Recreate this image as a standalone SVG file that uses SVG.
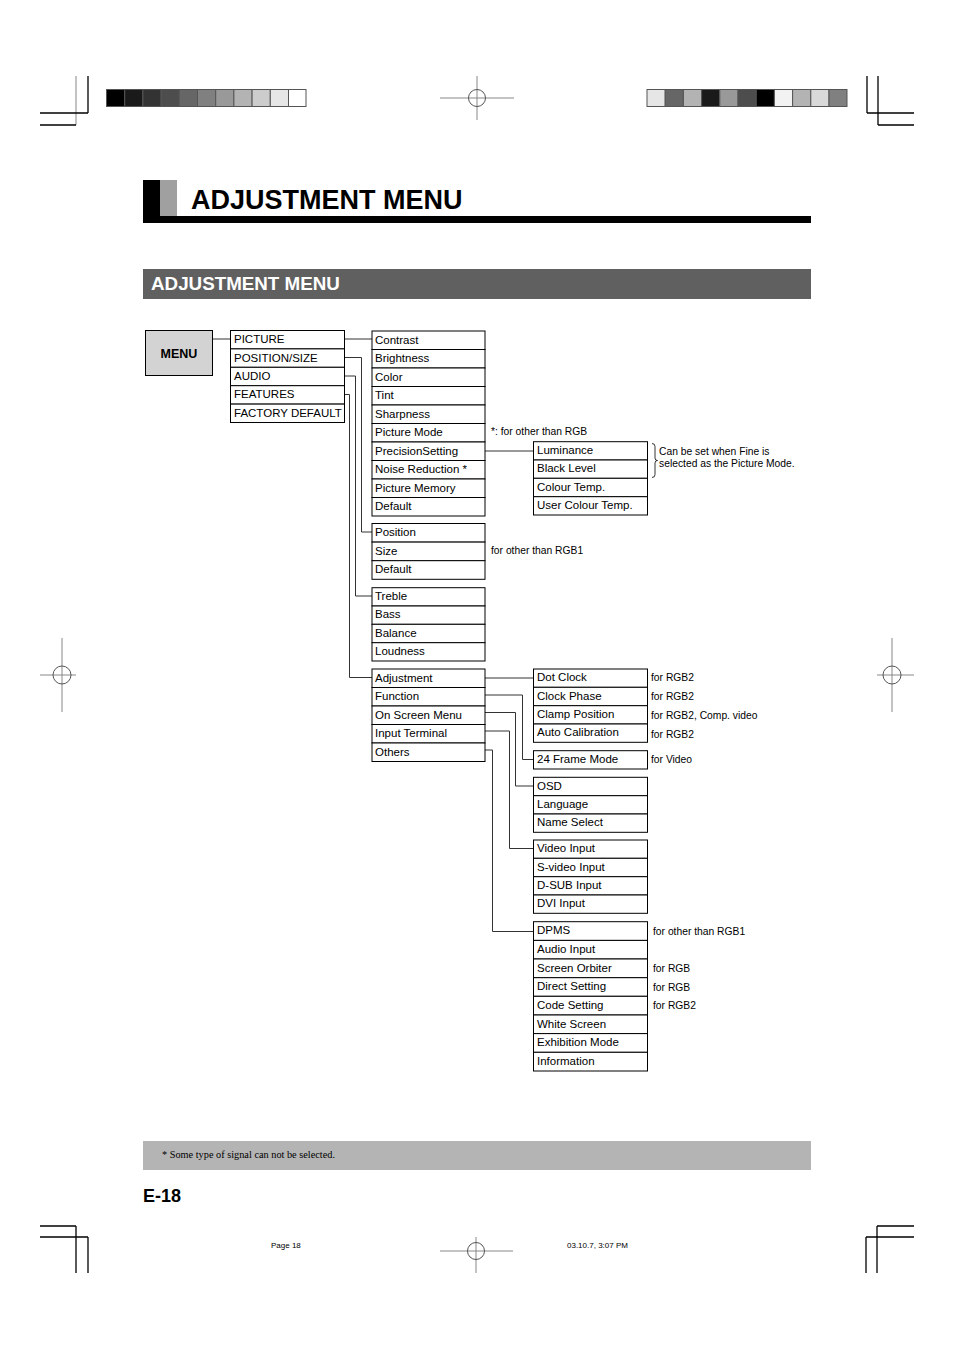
<svg xmlns="http://www.w3.org/2000/svg" width="954" height="1351" viewBox="0 0 954 1351">
<style>
.b{fill:#fff;stroke:#000;stroke-width:1}
.t{font-family:"Liberation Sans",Arial,sans-serif;font-size:11.5px;fill:#000}
.n{font-family:"Liberation Sans",Arial,sans-serif;font-size:10.3px;fill:#000}
.c{fill:none;stroke:#333;stroke-width:1}
.k{fill:none;stroke:#000;stroke-width:1.3}
.g{fill:none;stroke:#888;stroke-width:1}
.sq{stroke:#555;stroke-width:1}
</style>
<rect width="954" height="1351" fill="#fff"/>
<g id="printmarks">
<line class="g" x1="76" y1="76" x2="76" y2="125"/>
<line class="k" x1="88" y1="76" x2="88" y2="113"/>
<line class="k" x1="40" y1="113" x2="88" y2="113"/>
<line class="k" x1="40" y1="125" x2="76" y2="125"/>
<line class="k" x1="867" y1="76" x2="867" y2="113"/>
<line class="k" x1="878" y1="76" x2="878" y2="125"/>
<line class="k" x1="867" y1="113" x2="914" y2="113"/>
<line class="k" x1="878" y1="125" x2="914" y2="125"/>
<line class="k" x1="40" y1="1226" x2="76" y2="1226"/>
<line class="k" x1="76" y1="1226" x2="76" y2="1273"/>
<line class="k" x1="40" y1="1237" x2="88" y2="1237"/>
<line class="k" x1="88" y1="1237" x2="88" y2="1273"/>
<line class="k" x1="877" y1="1226" x2="914" y2="1226"/>
<line class="k" x1="877" y1="1226" x2="877" y2="1273"/>
<line class="k" x1="866" y1="1237" x2="914" y2="1237"/>
<line class="k" x1="866" y1="1237" x2="866" y2="1273"/>
<g>
<line class="g" x1="440" y1="98" x2="514" y2="98"/><line class="g" x1="477" y1="76" x2="477" y2="120"/><circle cx="477" cy="98" r="8.5" fill="none" stroke="#555"/>
<line class="g" x1="40" y1="675" x2="76" y2="675"/><line class="g" x1="62" y1="638" x2="62" y2="712"/><circle cx="62" cy="675" r="9" fill="none" stroke="#555"/>
<line class="g" x1="877" y1="675" x2="914" y2="675"/><line class="g" x1="892" y1="638" x2="892" y2="712"/><circle cx="892" cy="675" r="9" fill="none" stroke="#555"/>
<line class="g" x1="440" y1="1251" x2="513" y2="1251"/><line class="g" x1="476" y1="1237" x2="476" y2="1273"/><circle cx="476" cy="1251" r="8.5" fill="none" stroke="#555"/>
</g>
<g>
<rect class="sq" x="106.5" y="89.5" width="18.2" height="17" fill="#000"/>
<rect class="sq" x="124.7" y="89.5" width="18.2" height="17" fill="#1a1a1a"/>
<rect class="sq" x="142.9" y="89.5" width="18.2" height="17" fill="#333"/>
<rect class="sq" x="161.1" y="89.5" width="18.2" height="17" fill="#4d4d4d"/>
<rect class="sq" x="179.3" y="89.5" width="18.2" height="17" fill="#666"/>
<rect class="sq" x="197.5" y="89.5" width="18.2" height="17" fill="#808080"/>
<rect class="sq" x="215.7" y="89.5" width="18.2" height="17" fill="#999"/>
<rect class="sq" x="233.9" y="89.5" width="18.2" height="17" fill="#b3b3b3"/>
<rect class="sq" x="252.1" y="89.5" width="18.2" height="17" fill="#ccc"/>
<rect class="sq" x="270.3" y="89.5" width="18.2" height="17" fill="#e6e6e6"/>
<rect class="sq" x="288.5" y="89.5" width="17.5" height="17" fill="#fff"/>
<rect class="sq" x="647" y="89.5" width="18.2" height="17" fill="#e6e6e6"/>
<rect class="sq" x="665.2" y="89.5" width="18.2" height="17" fill="#666"/>
<rect class="sq" x="683.4" y="89.5" width="18.2" height="17" fill="#b3b3b3"/>
<rect class="sq" x="701.6" y="89.5" width="18.2" height="17" fill="#1a1a1a"/>
<rect class="sq" x="719.8" y="89.5" width="18.2" height="17" fill="#999"/>
<rect class="sq" x="738" y="89.5" width="18.2" height="17" fill="#4d4d4d"/>
<rect class="sq" x="756.2" y="89.5" width="18.2" height="17" fill="#000"/>
<rect class="sq" x="774.4" y="89.5" width="18.2" height="17" fill="#f2f2f2"/>
<rect class="sq" x="792.6" y="89.5" width="18.2" height="17" fill="#b3b3b3"/>
<rect class="sq" x="810.8" y="89.5" width="18.2" height="17" fill="#d9d9d9"/>
<rect class="sq" x="829" y="89.5" width="18" height="17" fill="#808080"/>
</g>
<text x="271" y="1248" font-family="Liberation Sans,Arial,sans-serif" font-size="8" fill="#000">Page 18</text>
<text x="567" y="1248" font-family="Liberation Sans,Arial,sans-serif" font-size="8" fill="#000">03.10.7, 3:07 PM</text>
</g>
<g id="title">
<rect x="143" y="180" width="17" height="37" fill="#000"/>
<rect x="160" y="180" width="17" height="37" fill="#a0a0a0"/>
<rect x="143" y="216" width="668" height="7" fill="#000"/>
<text x="191" y="209" font-family="Liberation Sans,Arial,sans-serif" font-size="27" font-weight="bold" fill="#000">ADJUSTMENT MENU</text>
</g>
<g id="section">
<rect x="143" y="269" width="668" height="30" fill="#606060"/>
<text x="151" y="290" font-family="Liberation Sans,Arial,sans-serif" font-size="18.8" font-weight="bold" fill="#fff">ADJUSTMENT MENU</text>
</g>
<g id="connectors">
<path class="c" d="M212,339H231"/>
<path class="c" d="M344,339H372"/>
<path class="c" d="M344,357.5H361.5V532H372"/>
<path class="c" d="M344,376H355.5V596H372"/>
<path class="c" d="M344,394.5H349.5V677.5H372"/>
<path class="c" d="M485,451H533"/>
<path class="c" d="M485,678H533"/>
<path class="c" d="M485,695H522.5V759.5H533"/>
<path class="c" d="M485,712.5H515.5V786H533"/>
<path class="c" d="M485,731H509.5V848.5H533"/>
<path class="c" d="M485,750H492.5V931.5H533"/>
</g>
<g id="menu">
<rect x="145.5" y="330.5" width="67" height="45" fill="#d3d3d3" stroke="#000"/>
<text x="179" y="358" text-anchor="middle" font-family="Liberation Sans,Arial,sans-serif" font-size="12.5" font-weight="bold">MENU</text>
</g>
<g id="col1">
<g id="n-picture"><rect class="b" x="230.5" y="330.5" width="114" height="18.4"/><text class="t" x="234" y="343">PICTURE</text></g>
<g id="n-position-size"><rect class="b" x="230.5" y="348.9" width="114" height="18.4"/><text class="t" x="234" y="361.5">POSITION/SIZE</text></g>
<g id="n-audio"><rect class="b" x="230.5" y="367.3" width="114" height="18.4"/><text class="t" x="234" y="379.8">AUDIO</text></g>
<g id="n-features"><rect class="b" x="230.5" y="385.7" width="114" height="18.4"/><text class="t" x="234" y="398.2">FEATURES</text></g>
<g id="n-factory"><rect class="b" x="230.5" y="404.1" width="114" height="18.4"/><text class="t" x="234" y="416.6">FACTORY DEFAULT</text></g>
</g>
<g id="picture-items">
<g id="n-contrast"><rect class="b" x="372" y="331" width="113" height="18.5"/><text class="t" x="375" y="343.5">Contrast</text></g>
<g id="n-brightness"><rect class="b" x="372" y="349.5" width="113" height="18.5"/><text class="t" x="375" y="362">Brightness</text></g>
<g id="n-color"><rect class="b" x="372" y="368" width="113" height="18.5"/><text class="t" x="375" y="380.5">Color</text></g>
<g id="n-tint"><rect class="b" x="372" y="386.5" width="113" height="18.5"/><text class="t" x="375" y="399">Tint</text></g>
<g id="n-sharpness"><rect class="b" x="372" y="405" width="113" height="18.5"/><text class="t" x="375" y="417.5">Sharpness</text></g>
<g id="n-picture-mode"><rect class="b" x="372" y="423.5" width="113" height="18.5"/><text class="t" x="375" y="436">Picture Mode</text></g>
<g id="n-precision"><rect class="b" x="372" y="442" width="113" height="18.5"/><text class="t" x="375" y="454.5">PrecisionSetting</text></g>
<g id="n-noise"><rect class="b" x="372" y="460.5" width="113" height="18.5"/><text class="t" x="375" y="473">Noise Reduction *</text></g>
<g id="n-picture-memory"><rect class="b" x="372" y="479" width="113" height="18.5"/><text class="t" x="375" y="491.5">Picture Memory</text></g>
<g id="n-picture-default"><rect class="b" x="372" y="497.5" width="113" height="18.5"/><text class="t" x="375" y="510">Default</text></g>
</g>
<g id="position-items">
<g id="n-position"><rect class="b" x="372" y="523.5" width="113" height="18.6"/><text class="t" x="375" y="536">Position</text></g>
<g id="n-size"><rect class="b" x="372" y="542.1" width="113" height="18.6"/><text class="t" x="375" y="554.6">Size</text></g>
<g id="n-position-default"><rect class="b" x="372" y="560.7" width="113" height="18.6"/><text class="t" x="375" y="573.2">Default</text></g>
</g>
<g id="audio-items">
<g id="n-treble"><rect class="b" x="372" y="587.7" width="113" height="18.3"/><text class="t" x="375" y="600">Treble</text></g>
<g id="n-bass"><rect class="b" x="372" y="606" width="113" height="18.3"/><text class="t" x="375" y="618.3">Bass</text></g>
<g id="n-balance"><rect class="b" x="372" y="624.3" width="113" height="18.4"/><text class="t" x="375" y="636.6">Balance</text></g>
<g id="n-loudness"><rect class="b" x="372" y="642.7" width="113" height="18.3"/><text class="t" x="375" y="655">Loudness</text></g>
</g>
<g id="features-items">
<g id="n-adjustment"><rect class="b" x="372" y="669" width="113" height="18.5"/><text class="t" x="375" y="681.5">Adjustment</text></g>
<g id="n-function"><rect class="b" x="372" y="687.5" width="113" height="18.5"/><text class="t" x="375" y="700">Function</text></g>
<g id="n-osm"><rect class="b" x="372" y="706" width="113" height="18.5"/><text class="t" x="375" y="718.5">On Screen Menu</text></g>
<g id="n-input-terminal"><rect class="b" x="372" y="724.5" width="113" height="18.5"/><text class="t" x="375" y="737">Input Terminal</text></g>
<g id="n-others"><rect class="b" x="372" y="743" width="113" height="18.5"/><text class="t" x="375" y="755.5">Others</text></g>
</g>
<g id="precision-items">
<g id="n-luminance"><rect class="b" x="533.5" y="441.7" width="114" height="18.3"/><text class="t" x="537" y="454">Luminance</text></g>
<g id="n-black-level"><rect class="b" x="533.5" y="460" width="114" height="18.3"/><text class="t" x="537" y="472.3">Black Level</text></g>
<g id="n-colour-temp"><rect class="b" x="533.5" y="478.3" width="114" height="18.4"/><text class="t" x="537" y="490.6">Colour Temp.</text></g>
<g id="n-user-colour"><rect class="b" x="533.5" y="496.7" width="114" height="18.3"/><text class="t" x="537" y="509">User Colour Temp.</text></g>
</g>
<g id="adjustment-items">
<g id="n-dot-clock"><rect class="b" x="533.5" y="669" width="114" height="18.3"/><text class="t" x="537" y="681.3">Dot Clock</text></g>
<g id="n-clock-phase"><rect class="b" x="533.5" y="687.3" width="114" height="18.4"/><text class="t" x="537" y="699.6">Clock Phase</text></g>
<g id="n-clamp"><rect class="b" x="533.5" y="705.7" width="114" height="18.3"/><text class="t" x="537" y="718">Clamp Position</text></g>
<g id="n-auto-cal"><rect class="b" x="533.5" y="724" width="114" height="18.3"/><text class="t" x="537" y="736.3">Auto Calibration</text></g>
</g>
<g id="function-items">
<g id="n-24frame"><rect class="b" x="533.5" y="750.7" width="114" height="18.3"/><text class="t" x="537" y="763">24 Frame Mode</text></g>
</g>
<g id="osm-items">
<g id="n-osd"><rect class="b" x="533.5" y="777.3" width="114" height="18.4"/><text class="t" x="537" y="789.6">OSD</text></g>
<g id="n-language"><rect class="b" x="533.5" y="795.7" width="114" height="18.3"/><text class="t" x="537" y="808">Language</text></g>
<g id="n-name-select"><rect class="b" x="533.5" y="814" width="114" height="18.3"/><text class="t" x="537" y="826.3">Name Select</text></g>
</g>
<g id="input-items">
<g id="n-video"><rect class="b" x="533.5" y="840" width="114" height="18.3"/><text class="t" x="537" y="852.3">Video Input</text></g>
<g id="n-svideo"><rect class="b" x="533.5" y="858.3" width="114" height="18.4"/><text class="t" x="537" y="870.6">S-video Input</text></g>
<g id="n-dsub"><rect class="b" x="533.5" y="876.7" width="114" height="18.3"/><text class="t" x="537" y="889">D-SUB Input</text></g>
<g id="n-dvi"><rect class="b" x="533.5" y="895" width="114" height="18.3"/><text class="t" x="537" y="907.3">DVI Input</text></g>
</g>
<g id="others-items">
<g id="n-dpms"><rect class="b" x="533.5" y="921.7" width="114" height="18.7"/><text class="t" x="537" y="934.2">DPMS</text></g>
<g id="n-audio-input"><rect class="b" x="533.5" y="940.4" width="114" height="18.6"/><text class="t" x="537" y="952.9">Audio Input</text></g>
<g id="n-orbiter"><rect class="b" x="533.5" y="959" width="114" height="18.7"/><text class="t" x="537" y="971.5">Screen Orbiter</text></g>
<g id="n-direct"><rect class="b" x="533.5" y="977.7" width="114" height="18.6"/><text class="t" x="537" y="990.2">Direct Setting</text></g>
<g id="n-code"><rect class="b" x="533.5" y="996.3" width="114" height="18.7"/><text class="t" x="537" y="1008.8">Code Setting</text></g>
<g id="n-white"><rect class="b" x="533.5" y="1015" width="114" height="18.6"/><text class="t" x="537" y="1027.5">White Screen</text></g>
<g id="n-exhibition"><rect class="b" x="533.5" y="1033.6" width="114" height="18.7"/><text class="t" x="537" y="1046.1">Exhibition Mode</text></g>
<g id="n-information"><rect class="b" x="533.5" y="1052.3" width="114" height="18.7"/><text class="t" x="537" y="1064.8">Information</text></g>
</g>
<g id="notes">
<text class="n" x="491" y="435">*: for other than RGB</text>
<path d="M652,443.5q3,0 3,3v11.5q0,2.5 2.5,2.5q-2.5,0 -2.5,2.5v11.5q0,3 -3,3" fill="none" stroke="#000" stroke-width="0.8"/>
<text class="n" x="659" y="455">Can be set when Fine is</text>
<text class="n" x="659" y="467">selected as the Picture Mode.</text>
<text class="n" x="491" y="554">for other than RGB1</text>
<text class="n" x="651" y="681">for RGB2</text>
<text class="n" x="651" y="700">for RGB2</text>
<text class="n" x="651" y="719">for RGB2, Comp. video</text>
<text class="n" x="651" y="738">for RGB2</text>
<text class="n" x="651" y="763">for Video</text>
<text class="n" x="653" y="935">for other than RGB1</text>
<text class="n" x="653" y="972">for RGB</text>
<text class="n" x="653" y="991">for RGB</text>
<text class="n" x="653" y="1009">for RGB2</text>
</g>
<g id="footer">
<rect x="143" y="1141" width="668" height="29" fill="#b4b4b4"/>
<text x="162" y="1158" font-family="Liberation Serif,Times New Roman,serif" font-size="10.3" fill="#000">* Some type of signal can not be selected.</text>
<text x="143" y="1202" font-family="Liberation Sans,Arial,sans-serif" font-size="18" font-weight="bold" fill="#000">E-18</text>
</g>
</svg>
